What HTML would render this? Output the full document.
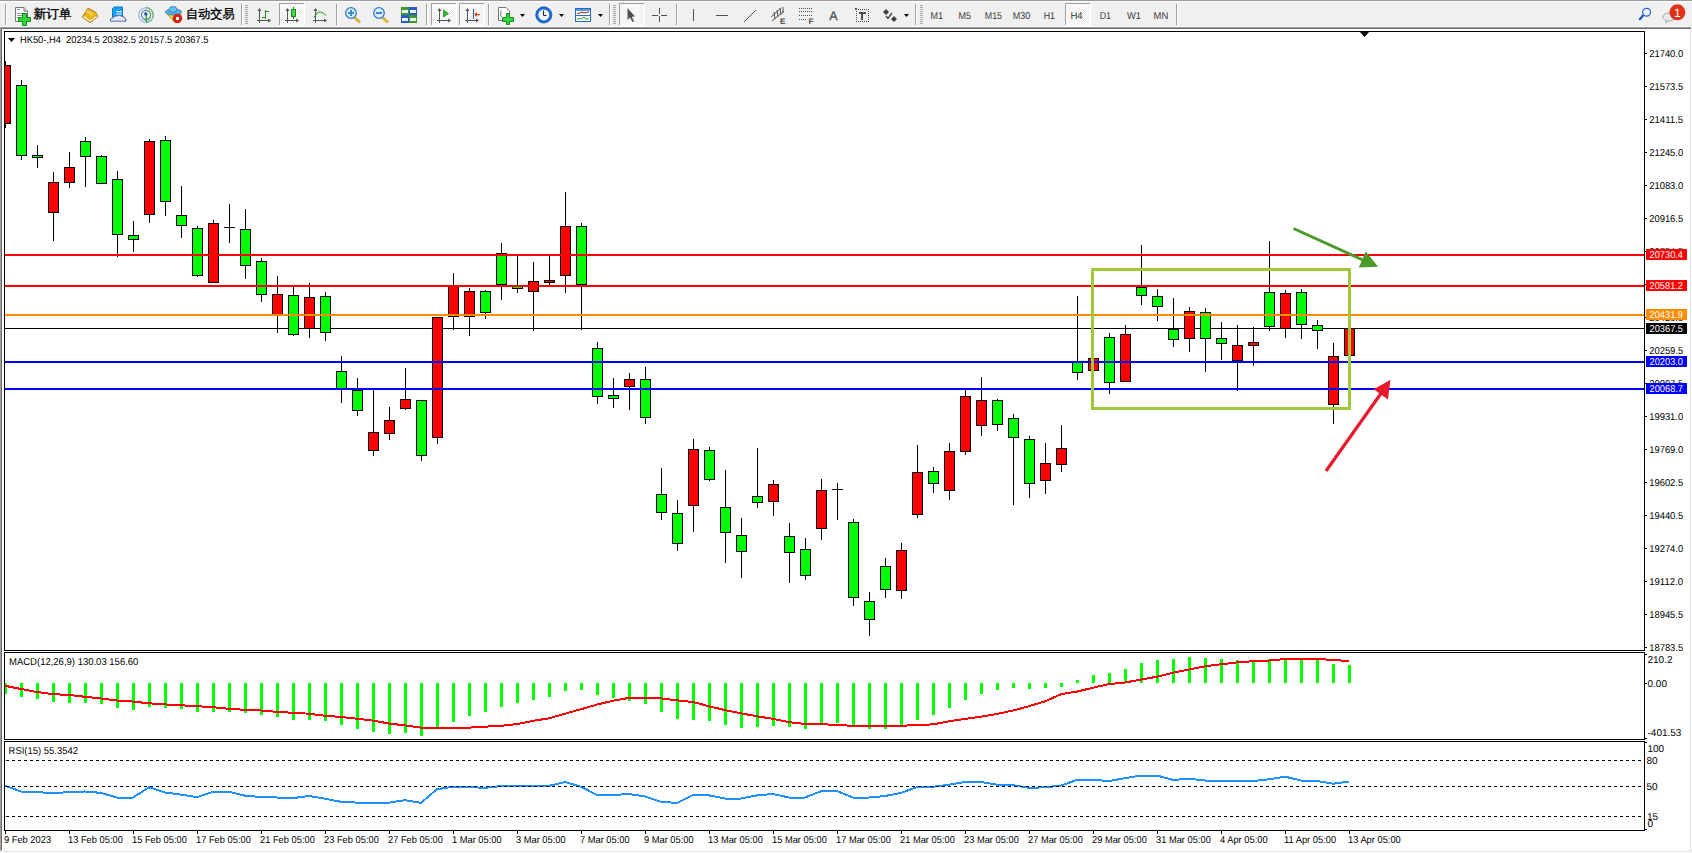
<!DOCTYPE html><html><head><meta charset="utf-8"><style>
html,body{margin:0;padding:0;width:1692px;height:853px;overflow:hidden;background:#f0f0f0;}
svg{position:absolute;left:0;top:0;display:block;}
text{font-family:"Liberation Sans",sans-serif;text-rendering:geometricPrecision;}
</style></head><body>
<svg width="1692" height="853" viewBox="0 0 1692 853">
<defs><clipPath id="cm"><rect x="5" y="32" width="1639" height="618"/></clipPath><clipPath id="cd"><rect x="5" y="653" width="1639" height="86"/></clipPath><clipPath id="cr"><rect x="5" y="742" width="1639" height="88"/></clipPath><pattern id="chk" width="2" height="2" patternUnits="userSpaceOnUse"><rect width="2" height="2" fill="#ededed"/><rect width="1" height="1" fill="#ffffff"/><rect x="1" y="1" width="1" height="1" fill="#ffffff"/></pattern></defs>
<g shape-rendering="crispEdges">
<rect x="0" y="0" width="1692" height="1" fill="#999"/>
<rect x="0" y="1" width="1692" height="1" fill="#fff"/>
<rect x="0" y="26" width="1692" height="1" fill="#f8f8f8"/>
<rect x="0" y="27" width="1692" height="1" fill="#a0a0a0"/>
<rect x="0" y="27" width="1" height="824" fill="#a0a0a0"/>
<rect x="1" y="28" width="1690" height="1" fill="#696969"/>
<rect x="1" y="28" width="1" height="822" fill="#696969"/>
<rect x="2" y="29" width="1688" height="822" fill="#fff"/>
<rect x="1690" y="29" width="1" height="823" fill="#e3e3e3"/>
<rect x="1691" y="27" width="1" height="826" fill="#fff"/>
<rect x="2" y="851" width="1689" height="1" fill="#e3e3e3"/>
<rect x="0" y="852" width="1692" height="1" fill="#fff"/>
</g>
<g shape-rendering="crispEdges">
<rect x="5" y="4" width="1" height="21" fill="#a0a0a0"/><rect x="6" y="4" width="1" height="21" fill="#ffffff"/>
</g>
<g>
<path d="M15.5,7.5 H24 L27.5,11 V21.5 H15.5 Z" fill="#fff" stroke="#777" stroke-width="1"/>
<path d="M24,7.5 V11 H27.5" fill="#e8e8e8" stroke="#777" stroke-width="1"/>
<g fill="#999" shape-rendering="crispEdges"><rect x="17" y="9" width="3" height="1"/><rect x="17" y="13" width="6" height="1"/><rect x="17" y="15" width="5" height="1"/><rect x="17" y="17" width="3" height="1"/></g>
<path d="M22.5,13.5 h4 v4 h4 v4 h-4 v4 h-4 v-4 h-4 v-4 h4 z" fill="#2fd83a" stroke="#1a8a22" stroke-width="1"/>
</g>
<text x="33.5" y="18.3" font-size="12.4" fill="#000" stroke="#000" stroke-width="0.35" textLength="38" lengthAdjust="spacingAndGlyphs">新订单</text>
<g>
<path d="M88,8.2 L95.5,12 L98,16.6 L90,22.6 L82.2,17 Z" fill="#e8b41c" stroke="#a8701a" stroke-width="0.9" stroke-linejoin="round"/>
<path d="M83.5,16.6 L90.2,21 L96.8,16.2" fill="none" stroke="#f8eec0" stroke-width="1.3"/>
<path d="M86.5,11 L93,14.5" stroke="#f6d456" stroke-width="2"/>
</g>
<g>
<path d="M112.5,8.5 L114.5,7 H122.5 V17 H112.5 Z" fill="#1aa0f0" stroke="#0a78c8" stroke-width="1"/>
<rect x="116.5" y="11" width="5" height="1.3" fill="#fff"/>
<rect x="116.5" y="13.5" width="5" height="1.3" fill="#d8f0ff"/>
<path d="M111,21.5 Q109.5,18 113,17.8 Q114,15 117,16 Q119,13.8 121.5,16.2 Q124,15.5 124.5,18 Q127,18.5 125.5,21.5 Z" fill="#e4e8f4" stroke="#3a5a9a" stroke-width="1"/>
<rect x="111.5" y="20" width="13.5" height="1.6" fill="#b8c4dc"/>
</g>
<g fill="none">
<circle cx="146" cy="15" r="7.3" stroke="#8ab8e0" stroke-width="1.1"/>
<path d="M146,7.7 A7.3,7.3 0 0 1 146,22.3" stroke="#6ab86a" stroke-width="1.2"/>
<circle cx="146" cy="15" r="4.6" stroke="#4a7ad0" stroke-width="1.1"/>
<path d="M146,10.4 A4.6,4.6 0 0 1 146,19.6" stroke="#5aa85a" stroke-width="1.1"/>
<circle cx="145.8" cy="14" r="1.7" fill="#2050c0"/>
<rect x="145.8" y="14.5" width="1.2" height="8" fill="#20a020"/>
</g>
<g>
<path d="M167,14 L175,22.5 L180,20 L181,14 Z" fill="#f0d040" stroke="#c8a020" stroke-width="1"/>
<ellipse cx="173.5" cy="12" rx="8" ry="3" fill="#5ab0e0" stroke="#3a88c0" stroke-width="1"/>
<ellipse cx="173" cy="9.5" rx="4" ry="3" fill="#6ac0f0" stroke="#3a88c0" stroke-width="1"/>
<circle cx="177.5" cy="18.5" r="4.3" fill="#e02010" stroke="#b01808" stroke-width="0.8"/>
<rect x="176" y="17" width="3" height="3" fill="#fff"/>
</g>
<text x="186" y="18.3" font-size="12.4" fill="#000" stroke="#000" stroke-width="0.35" textLength="48.5" lengthAdjust="spacingAndGlyphs">自动交易</text>
<g shape-rendering="crispEdges">
<rect x="241" y="4" width="1" height="21" fill="#a0a0a0"/><rect x="242" y="4" width="1" height="21" fill="#ffffff"/>
<rect x="245" y="5" width="3" height="1" fill="#a8a8a8"/>
<rect x="245" y="7" width="3" height="1" fill="#a8a8a8"/>
<rect x="245" y="9" width="3" height="1" fill="#a8a8a8"/>
<rect x="245" y="11" width="3" height="1" fill="#a8a8a8"/>
<rect x="245" y="13" width="3" height="1" fill="#a8a8a8"/>
<rect x="245" y="15" width="3" height="1" fill="#a8a8a8"/>
<rect x="245" y="17" width="3" height="1" fill="#a8a8a8"/>
<rect x="245" y="19" width="3" height="1" fill="#a8a8a8"/>
<rect x="245" y="21" width="3" height="1" fill="#a8a8a8"/>
<rect x="245" y="23" width="3" height="1" fill="#a8a8a8"/>
</g>
<g fill="#555" shape-rendering="crispEdges"><rect x="259" y="9" width="1" height="14"/><rect x="257" y="20" width="13" height="1"/></g><polygon points="259.5,8 257.5,11 261.5,11" fill="#555"/><polygon points="271,20.5 268,18.5 268,22.5" fill="#555"/>
<g fill="#189018" shape-rendering="crispEdges"><rect x="265" y="10" width="1" height="9"/><rect x="266" y="11" width="3" height="1"/><rect x="262" y="17" width="3" height="1"/></g>
<g shape-rendering="crispEdges">
<rect x="279" y="3" width="25" height="22" fill="url(#chk)"/>
<rect x="279" y="3" width="25" height="1" fill="#a0a0a0"/>
<rect x="279" y="3" width="1" height="22" fill="#a0a0a0"/>
<rect x="279" y="25" width="26" height="1" fill="#ffffff"/>
<rect x="304" y="3" width="1" height="23" fill="#ffffff"/>
</g>
<g fill="#555" shape-rendering="crispEdges"><rect x="287" y="9" width="1" height="14"/><rect x="285" y="20" width="13" height="1"/></g><polygon points="287.5,8 285.5,11 289.5,11" fill="#555"/><polygon points="299,20.5 296,18.5 296,22.5" fill="#555"/>
<rect x="293" y="7" width="1" height="12" fill="#1a8a1a" shape-rendering="crispEdges"/>
<rect x="291.5" y="9.5" width="4" height="7" fill="#3ee03e" stroke="#1a8a1a" stroke-width="1" shape-rendering="crispEdges"/>
<g fill="#555" shape-rendering="crispEdges"><rect x="315" y="9" width="1" height="14"/><rect x="313" y="20" width="13" height="1"/></g><polygon points="315.5,8 313.5,11 317.5,11" fill="#555"/><polygon points="327,20.5 324,18.5 324,22.5" fill="#555"/>
<path d="M314,17.5 Q317,12 320,12 Q323,12 326,15.5" fill="none" stroke="#2a9a2a" stroke-width="1.1"/>
<g shape-rendering="crispEdges">
<rect x="336" y="4" width="1" height="21" fill="#a0a0a0"/><rect x="337" y="4" width="1" height="21" fill="#ffffff"/>
</g>
<line x1="354" y1="17" x2="360" y2="22.5" stroke="#c8a020" stroke-width="2.6"/>
<line x1="354" y1="17" x2="360" y2="22.5" stroke="#f0d860" stroke-width="1"/>
<circle cx="351" cy="13" r="5.3" fill="#d8f0ff" stroke="#3a7ad0" stroke-width="1.3"/>
<rect x="348" y="12" width="6" height="2" fill="#3a8ac8"/>
<rect x="350" y="10" width="2" height="6" fill="#3a8ac8"/>
<line x1="382" y1="17" x2="388" y2="22.5" stroke="#c8a020" stroke-width="2.6"/>
<line x1="382" y1="17" x2="388" y2="22.5" stroke="#f0d860" stroke-width="1"/>
<circle cx="379" cy="13" r="5.3" fill="#d8f0ff" stroke="#3a7ad0" stroke-width="1.3"/>
<rect x="376" y="12" width="6" height="2" fill="#3a8ac8"/>
<g shape-rendering="crispEdges">
<rect x="401" y="7" width="8" height="8" fill="#3a9a2a"/>
<rect x="402" y="10" width="6" height="3" fill="#f0f8f0"/>
<rect x="409" y="7" width="8" height="8" fill="#2a5ad0"/>
<rect x="410" y="10" width="6" height="3" fill="#f0f8f0"/>
<rect x="401" y="15" width="8" height="8" fill="#2a5ad0"/>
<rect x="402" y="18" width="6" height="3" fill="#f0f8f0"/>
<rect x="409" y="15" width="8" height="8" fill="#3a9a2a"/>
<rect x="410" y="18" width="6" height="3" fill="#f0f8f0"/>
</g>
<g shape-rendering="crispEdges">
<rect x="426" y="4" width="1" height="21" fill="#a0a0a0"/><rect x="427" y="4" width="1" height="21" fill="#ffffff"/>
<rect x="431" y="3" width="25" height="22" fill="url(#chk)"/>
<rect x="431" y="3" width="25" height="1" fill="#a0a0a0"/>
<rect x="431" y="3" width="1" height="22" fill="#a0a0a0"/>
<rect x="431" y="25" width="26" height="1" fill="#ffffff"/>
<rect x="456" y="3" width="1" height="23" fill="#ffffff"/>
<rect x="459" y="3" width="25" height="22" fill="url(#chk)"/>
<rect x="459" y="3" width="25" height="1" fill="#a0a0a0"/>
<rect x="459" y="3" width="1" height="22" fill="#a0a0a0"/>
<rect x="459" y="25" width="26" height="1" fill="#ffffff"/>
<rect x="484" y="3" width="1" height="23" fill="#ffffff"/>
</g>
<g fill="#555" shape-rendering="crispEdges"><rect x="439" y="9" width="1" height="14"/><rect x="437" y="20" width="13" height="1"/></g><polygon points="439.5,8 437.5,11 441.5,11" fill="#555"/><polygon points="451,20.5 448,18.5 448,22.5" fill="#555"/>
<polygon points="443.5,10 448.5,13.5 443.5,17" fill="#30c030" stroke="#208a20" stroke-width="0.8"/>
<g fill="#555" shape-rendering="crispEdges"><rect x="467" y="9" width="1" height="14"/><rect x="465" y="20" width="13" height="1"/></g><polygon points="467.5,8 465.5,11 469.5,11" fill="#555"/><polygon points="479,20.5 476,18.5 476,22.5" fill="#555"/>
<rect x="473" y="9" width="1" height="10" fill="#2060b0" shape-rendering="crispEdges"/>
<polygon points="474,14.5 477,12 477,17" fill="#e04010"/><rect x="476" y="14" width="4" height="1.2" fill="#e04010"/>
<g shape-rendering="crispEdges">
<rect x="488" y="4" width="1" height="21" fill="#a0a0a0"/><rect x="489" y="4" width="1" height="21" fill="#ffffff"/>
</g>
<path d="M498.5,7.5 H506 L509.5,11 V20.5 H498.5 Z" fill="#fff" stroke="#777" stroke-width="1"/>
<path d="M501.5,10 Q500,11 501,13 Q500,15 501.5,17" fill="none" stroke="#555" stroke-width="0.8"/>
<path d="M506.5,13.5 h3 v4 h4 v4 h-4 v3 h-3 v-3 h-4 v-4 h4 z" fill="#2fd83a" stroke="#1a8a22" stroke-width="1"/>
<polygon points="520.0,14 525.0,14 522.5,17" fill="#000"/>
<circle cx="543.8" cy="14.9" r="6.8" fill="#f2f6fa" stroke="#1a70d8" stroke-width="2.6"/>
<circle cx="543.8" cy="14.9" r="8.1" fill="none" stroke="#0a4a9a" stroke-width="0.7"/>
<path d="M543.5,10.5 V15.5 H546.5" fill="none" stroke="#222" stroke-width="1"/>
<polygon points="559.0,14 564.0,14 561.5,17" fill="#000"/>
<rect x="575.5" y="8.5" width="15" height="13" fill="#fff" stroke="#2a6ac0" stroke-width="1"/>
<rect x="576" y="9" width="14" height="2" fill="#5a9ae0"/>
<rect x="576" y="15" width="14" height="1" fill="#2a6ac0"/>
<path d="M577,13.5 L580,13 L582,12 L584,13 L586,12.5 L589,12" fill="none" stroke="#a02010" stroke-width="1"/>
<path d="M577,19.5 L579,18.5 L581,19 L584,17 L586,19 L589,19" fill="none" stroke="#20a020" stroke-width="1"/>
<polygon points="598.0,14 603.0,14 600.5,17" fill="#000"/>
<g shape-rendering="crispEdges">
<rect x="609" y="4" width="1" height="21" fill="#a0a0a0"/><rect x="610" y="4" width="1" height="21" fill="#ffffff"/>
<rect x="613" y="5" width="3" height="1" fill="#a8a8a8"/>
<rect x="613" y="7" width="3" height="1" fill="#a8a8a8"/>
<rect x="613" y="9" width="3" height="1" fill="#a8a8a8"/>
<rect x="613" y="11" width="3" height="1" fill="#a8a8a8"/>
<rect x="613" y="13" width="3" height="1" fill="#a8a8a8"/>
<rect x="613" y="15" width="3" height="1" fill="#a8a8a8"/>
<rect x="613" y="17" width="3" height="1" fill="#a8a8a8"/>
<rect x="613" y="19" width="3" height="1" fill="#a8a8a8"/>
<rect x="613" y="21" width="3" height="1" fill="#a8a8a8"/>
<rect x="613" y="23" width="3" height="1" fill="#a8a8a8"/>
<rect x="619" y="3" width="25" height="22" fill="url(#chk)"/>
<rect x="619" y="3" width="25" height="1" fill="#a0a0a0"/>
<rect x="619" y="3" width="1" height="22" fill="#a0a0a0"/>
<rect x="619" y="25" width="26" height="1" fill="#ffffff"/>
<rect x="644" y="3" width="1" height="23" fill="#ffffff"/>
</g>
<path d="M627.5,8 V20 L630,17.5 L632.5,22 L634,21.2 L631.8,16.8 L635,16.5 Z" fill="#505050"/>
<g fill="#505050" shape-rendering="crispEdges"><rect x="659" y="8" width="1" height="6"/><rect x="659" y="16" width="1" height="6"/><rect x="652" y="15" width="6" height="1"/><rect x="661" y="15" width="6" height="1"/></g>
<g shape-rendering="crispEdges">
<rect x="676" y="4" width="1" height="21" fill="#a0a0a0"/><rect x="677" y="4" width="1" height="21" fill="#ffffff"/>
</g>
<rect x="693" y="9" width="1" height="12" fill="#505050" shape-rendering="crispEdges"/>
<rect x="716" y="15" width="12" height="1" fill="#505050" shape-rendering="crispEdges"/>
<line x1="744" y1="22" x2="756" y2="10" stroke="#505050" stroke-width="1"/>
<g stroke="#505050" stroke-width="1" fill="none"><line x1="771" y1="17" x2="781" y2="8"/><line x1="772" y1="21" x2="784" y2="11"/><line x1="774" y1="12" x2="775" y2="19"/><line x1="777" y1="10" x2="778" y2="17"/><line x1="780" y1="8" x2="781" y2="15"/><line x1="783" y1="7" x2="783" y2="13"/></g>
<text x="780" y="23.5" font-size="8" font-weight="bold" fill="#505050">E</text>
<g fill="#505050" shape-rendering="crispEdges">
<rect x="799" y="8" width="1" height="1"/>
<rect x="801" y="8" width="1" height="1"/>
<rect x="803" y="8" width="1" height="1"/>
<rect x="805" y="8" width="1" height="1"/>
<rect x="807" y="8" width="1" height="1"/>
<rect x="809" y="8" width="1" height="1"/>
<rect x="811" y="8" width="1" height="1"/>
<rect x="799" y="11" width="1" height="1"/>
<rect x="801" y="11" width="1" height="1"/>
<rect x="803" y="11" width="1" height="1"/>
<rect x="805" y="11" width="1" height="1"/>
<rect x="807" y="11" width="1" height="1"/>
<rect x="809" y="11" width="1" height="1"/>
<rect x="811" y="11" width="1" height="1"/>
<rect x="799" y="15" width="1" height="1"/>
<rect x="801" y="15" width="1" height="1"/>
<rect x="803" y="15" width="1" height="1"/>
<rect x="805" y="15" width="1" height="1"/>
<rect x="807" y="15" width="1" height="1"/>
<rect x="809" y="15" width="1" height="1"/>
<rect x="811" y="15" width="1" height="1"/>
<rect x="799" y="19" width="1" height="1"/>
<rect x="801" y="19" width="1" height="1"/>
<rect x="803" y="19" width="1" height="1"/>
<rect x="805" y="19" width="1" height="1"/>
</g>
<text x="808.5" y="24" font-size="8" font-weight="bold" fill="#505050">F</text>
<text x="829.3" y="20" font-size="12.5" fill="#505050" stroke="#505050" stroke-width="0.3">A</text>
<g fill="#505050" shape-rendering="crispEdges">
<rect x="856" y="9" width="1" height="1"/><rect x="856" y="21" width="1" height="1"/>
<rect x="858" y="9" width="1" height="1"/><rect x="858" y="21" width="1" height="1"/>
<rect x="860" y="9" width="1" height="1"/><rect x="860" y="21" width="1" height="1"/>
<rect x="862" y="9" width="1" height="1"/><rect x="862" y="21" width="1" height="1"/>
<rect x="864" y="9" width="1" height="1"/><rect x="864" y="21" width="1" height="1"/>
<rect x="866" y="9" width="1" height="1"/><rect x="866" y="21" width="1" height="1"/>
<rect x="868" y="9" width="1" height="1"/><rect x="868" y="21" width="1" height="1"/>
<rect x="856" y="9" width="1" height="1"/><rect x="868" y="9" width="1" height="1"/>
<rect x="856" y="11" width="1" height="1"/><rect x="868" y="11" width="1" height="1"/>
<rect x="856" y="13" width="1" height="1"/><rect x="868" y="13" width="1" height="1"/>
<rect x="856" y="15" width="1" height="1"/><rect x="868" y="15" width="1" height="1"/>
<rect x="856" y="17" width="1" height="1"/><rect x="868" y="17" width="1" height="1"/>
<rect x="856" y="19" width="1" height="1"/><rect x="868" y="19" width="1" height="1"/>
<rect x="856" y="21" width="1" height="1"/><rect x="868" y="21" width="1" height="1"/>
<rect x="855" y="8" width="2" height="2"/>
<rect x="859" y="12" width="7" height="2"/><rect x="861" y="12" width="2" height="8"/>
</g>
<polygon points="886,9 889,12 886,15 883,12" fill="#404040"/>
<polygon points="894,16 897,19 894,22 891,19" fill="#404040"/>
<path d="M886,16 L888,18.5 L892,13" fill="none" stroke="#404040" stroke-width="1.3"/>
<polygon points="904.0,14 909.0,14 906.5,17" fill="#000"/>
<g shape-rendering="crispEdges">
<rect x="915" y="4" width="1" height="21" fill="#a0a0a0"/><rect x="916" y="4" width="1" height="21" fill="#ffffff"/>
<rect x="920" y="5" width="3" height="1" fill="#a8a8a8"/>
<rect x="920" y="7" width="3" height="1" fill="#a8a8a8"/>
<rect x="920" y="9" width="3" height="1" fill="#a8a8a8"/>
<rect x="920" y="11" width="3" height="1" fill="#a8a8a8"/>
<rect x="920" y="13" width="3" height="1" fill="#a8a8a8"/>
<rect x="920" y="15" width="3" height="1" fill="#a8a8a8"/>
<rect x="920" y="17" width="3" height="1" fill="#a8a8a8"/>
<rect x="920" y="19" width="3" height="1" fill="#a8a8a8"/>
<rect x="920" y="21" width="3" height="1" fill="#a8a8a8"/>
<rect x="920" y="23" width="3" height="1" fill="#a8a8a8"/>
<rect x="1065" y="3" width="25" height="22" fill="url(#chk)"/>
<rect x="1065" y="3" width="25" height="1" fill="#a0a0a0"/>
<rect x="1065" y="3" width="1" height="22" fill="#a0a0a0"/>
<rect x="1065" y="25" width="26" height="1" fill="#ffffff"/>
<rect x="1090" y="3" width="1" height="23" fill="#ffffff"/>
<rect x="1176" y="4" width="1" height="21" fill="#a0a0a0"/><rect x="1177" y="4" width="1" height="21" fill="#ffffff"/>
</g>
<text x="930.5" y="19" font-size="10" fill="#383838" textLength="12.5" lengthAdjust="spacingAndGlyphs">M1</text>
<text x="958.5" y="19" font-size="10" fill="#383838" textLength="12.5" lengthAdjust="spacingAndGlyphs">M5</text>
<text x="984.8" y="19" font-size="10" fill="#383838" textLength="17.2" lengthAdjust="spacingAndGlyphs">M15</text>
<text x="1012.7" y="19" font-size="10" fill="#383838" textLength="17.5" lengthAdjust="spacingAndGlyphs">M30</text>
<text x="1043.7" y="19" font-size="10" fill="#383838" textLength="11.3" lengthAdjust="spacingAndGlyphs">H1</text>
<text x="1070.4" y="19" font-size="10" fill="#383838" textLength="12.3" lengthAdjust="spacingAndGlyphs">H4</text>
<text x="1099.7" y="19" font-size="10" fill="#383838" textLength="11.3" lengthAdjust="spacingAndGlyphs">D1</text>
<text x="1127" y="19" font-size="10" fill="#383838" textLength="13.9" lengthAdjust="spacingAndGlyphs">W1</text>
<text x="1153.6" y="19" font-size="10" fill="#383838" textLength="14.7" lengthAdjust="spacingAndGlyphs">MN</text>
<line x1="1643.3" y1="15.3" x2="1639.8" y2="19.2" stroke="#1a50c8" stroke-width="2.2" stroke-linecap="round"/>
<circle cx="1646.6" cy="12.3" r="3.9" fill="#f4f8ff" stroke="#2060d8" stroke-width="1.2"/>
<ellipse cx="1669" cy="17" rx="6" ry="4" fill="#e8eaf0" stroke="#a0a0a0" stroke-width="0.9"/>
<path d="M1666,20 L1666,23 L1669,20.8" fill="#e8eaf0" stroke="#a0a0a0" stroke-width="0.9"/>
<circle cx="1677.4" cy="12.3" r="8" fill="#e03018"/>
<text x="1677.4" y="16.8" font-size="12" fill="#fff" text-anchor="middle" font-family="'Liberation Serif',serif">1</text>
<g shape-rendering="crispEdges">
<rect x="4.5" y="31.5" width="1640" height="619" fill="none" stroke="#000" stroke-width="1"/>
<rect x="4.5" y="652.5" width="1640" height="87" fill="none" stroke="#000" stroke-width="1"/>
<rect x="4.5" y="741.5" width="1640" height="89" fill="none" stroke="#000" stroke-width="1"/>
</g>
<rect x="5" y="328" width="1639" height="1" fill="#000" shape-rendering="crispEdges"/>
<g clip-path="url(#cm)" shape-rendering="crispEdges">
<rect x="5" y="61" width="1" height="67" fill="#000"/>
<rect x="0" y="65" width="11" height="59" fill="#000"/>
<rect x="1" y="66" width="9" height="57" fill="#ff0000"/>
<rect x="21" y="80" width="1" height="80" fill="#000"/>
<rect x="16" y="85" width="11" height="71" fill="#000"/>
<rect x="17" y="86" width="9" height="69" fill="#00ff00"/>
<rect x="37" y="145" width="1" height="23" fill="#000"/>
<rect x="32" y="155" width="11" height="3" fill="#000"/>
<rect x="33" y="156" width="9" height="1" fill="#00ff00"/>
<rect x="53" y="172" width="1" height="69" fill="#000"/>
<rect x="48" y="182" width="11" height="31" fill="#000"/>
<rect x="49" y="183" width="9" height="29" fill="#ff0000"/>
<rect x="69" y="152" width="1" height="36" fill="#000"/>
<rect x="64" y="167" width="11" height="16" fill="#000"/>
<rect x="65" y="168" width="9" height="14" fill="#ff0000"/>
<rect x="85" y="137" width="1" height="50" fill="#000"/>
<rect x="80" y="141" width="11" height="16" fill="#000"/>
<rect x="81" y="142" width="9" height="14" fill="#00ff00"/>
<rect x="101" y="155" width="1" height="29" fill="#000"/>
<rect x="96" y="156" width="11" height="28" fill="#000"/>
<rect x="97" y="157" width="9" height="26" fill="#00ff00"/>
<rect x="117" y="171" width="1" height="86" fill="#000"/>
<rect x="112" y="179" width="11" height="56" fill="#000"/>
<rect x="113" y="180" width="9" height="54" fill="#00ff00"/>
<rect x="133" y="221" width="1" height="31" fill="#000"/>
<rect x="128" y="235" width="11" height="5" fill="#000"/>
<rect x="129" y="236" width="9" height="3" fill="#00ff00"/>
<rect x="149" y="139" width="1" height="84" fill="#000"/>
<rect x="144" y="141" width="11" height="74" fill="#000"/>
<rect x="145" y="142" width="9" height="72" fill="#ff0000"/>
<rect x="165" y="136" width="1" height="80" fill="#000"/>
<rect x="160" y="140" width="11" height="62" fill="#000"/>
<rect x="161" y="141" width="9" height="60" fill="#00ff00"/>
<rect x="181" y="186" width="1" height="52" fill="#000"/>
<rect x="176" y="215" width="11" height="11" fill="#000"/>
<rect x="177" y="216" width="9" height="9" fill="#00ff00"/>
<rect x="197" y="226" width="1" height="51" fill="#000"/>
<rect x="192" y="228" width="11" height="48" fill="#000"/>
<rect x="193" y="229" width="9" height="46" fill="#00ff00"/>
<rect x="213" y="220" width="1" height="62" fill="#000"/>
<rect x="208" y="223" width="11" height="60" fill="#000"/>
<rect x="209" y="224" width="9" height="58" fill="#ff0000"/>
<rect x="229" y="204" width="1" height="39" fill="#000"/>
<rect x="224" y="227" width="11" height="1" fill="#000"/>
<rect x="245" y="209" width="1" height="70" fill="#000"/>
<rect x="240" y="229" width="11" height="37" fill="#000"/>
<rect x="241" y="230" width="9" height="35" fill="#00ff00"/>
<rect x="261" y="258" width="1" height="44" fill="#000"/>
<rect x="256" y="261" width="11" height="34" fill="#000"/>
<rect x="257" y="262" width="9" height="32" fill="#00ff00"/>
<rect x="277" y="276" width="1" height="57" fill="#000"/>
<rect x="272" y="294" width="11" height="21" fill="#000"/>
<rect x="273" y="295" width="9" height="19" fill="#ff0000"/>
<rect x="293" y="287" width="1" height="49" fill="#000"/>
<rect x="288" y="295" width="11" height="40" fill="#000"/>
<rect x="289" y="296" width="9" height="38" fill="#00ff00"/>
<rect x="309" y="283" width="1" height="55" fill="#000"/>
<rect x="304" y="297" width="11" height="32" fill="#000"/>
<rect x="305" y="298" width="9" height="30" fill="#ff0000"/>
<rect x="325" y="292" width="1" height="49" fill="#000"/>
<rect x="320" y="296" width="11" height="37" fill="#000"/>
<rect x="321" y="297" width="9" height="35" fill="#00ff00"/>
<rect x="341" y="356" width="1" height="47" fill="#000"/>
<rect x="336" y="371" width="11" height="18" fill="#000"/>
<rect x="337" y="372" width="9" height="16" fill="#00ff00"/>
<rect x="357" y="378" width="1" height="38" fill="#000"/>
<rect x="352" y="390" width="11" height="21" fill="#000"/>
<rect x="353" y="391" width="9" height="19" fill="#00ff00"/>
<rect x="373" y="390" width="1" height="66" fill="#000"/>
<rect x="368" y="432" width="11" height="19" fill="#000"/>
<rect x="369" y="433" width="9" height="17" fill="#ff0000"/>
<rect x="389" y="407" width="1" height="33" fill="#000"/>
<rect x="384" y="420" width="11" height="14" fill="#000"/>
<rect x="385" y="421" width="9" height="12" fill="#ff0000"/>
<rect x="405" y="368" width="1" height="42" fill="#000"/>
<rect x="400" y="399" width="11" height="10" fill="#000"/>
<rect x="401" y="400" width="9" height="8" fill="#ff0000"/>
<rect x="421" y="400" width="1" height="61" fill="#000"/>
<rect x="416" y="400" width="11" height="56" fill="#000"/>
<rect x="417" y="401" width="9" height="54" fill="#00ff00"/>
<rect x="437" y="317" width="1" height="127" fill="#000"/>
<rect x="432" y="317" width="11" height="121" fill="#000"/>
<rect x="433" y="318" width="9" height="119" fill="#ff0000"/>
<rect x="453" y="273" width="1" height="57" fill="#000"/>
<rect x="448" y="285" width="11" height="32" fill="#000"/>
<rect x="449" y="286" width="9" height="30" fill="#ff0000"/>
<rect x="469" y="288" width="1" height="48" fill="#000"/>
<rect x="464" y="291" width="11" height="26" fill="#000"/>
<rect x="465" y="292" width="9" height="24" fill="#ff0000"/>
<rect x="485" y="290" width="1" height="29" fill="#000"/>
<rect x="480" y="291" width="11" height="22" fill="#000"/>
<rect x="481" y="292" width="9" height="20" fill="#00ff00"/>
<rect x="501" y="243" width="1" height="57" fill="#000"/>
<rect x="496" y="253" width="11" height="32" fill="#000"/>
<rect x="497" y="254" width="9" height="30" fill="#00ff00"/>
<rect x="517" y="255" width="1" height="38" fill="#000"/>
<rect x="512" y="286" width="11" height="3" fill="#000"/>
<rect x="513" y="287" width="9" height="1" fill="#00ff00"/>
<rect x="533" y="262" width="1" height="69" fill="#000"/>
<rect x="528" y="281" width="11" height="11" fill="#000"/>
<rect x="529" y="282" width="9" height="9" fill="#ff0000"/>
<rect x="549" y="256" width="1" height="29" fill="#000"/>
<rect x="544" y="280" width="11" height="3" fill="#000"/>
<rect x="545" y="281" width="9" height="1" fill="#ff0000"/>
<rect x="565" y="192" width="1" height="101" fill="#000"/>
<rect x="560" y="226" width="11" height="50" fill="#000"/>
<rect x="561" y="227" width="9" height="48" fill="#ff0000"/>
<rect x="581" y="223" width="1" height="107" fill="#000"/>
<rect x="576" y="226" width="11" height="59" fill="#000"/>
<rect x="577" y="227" width="9" height="57" fill="#00ff00"/>
<rect x="597" y="342" width="1" height="62" fill="#000"/>
<rect x="592" y="348" width="11" height="49" fill="#000"/>
<rect x="593" y="349" width="9" height="47" fill="#00ff00"/>
<rect x="613" y="378" width="1" height="30" fill="#000"/>
<rect x="608" y="395" width="11" height="4" fill="#000"/>
<rect x="609" y="396" width="9" height="2" fill="#00ff00"/>
<rect x="629" y="373" width="1" height="37" fill="#000"/>
<rect x="624" y="379" width="11" height="8" fill="#000"/>
<rect x="625" y="380" width="9" height="6" fill="#ff0000"/>
<rect x="645" y="367" width="1" height="57" fill="#000"/>
<rect x="640" y="379" width="11" height="39" fill="#000"/>
<rect x="641" y="380" width="9" height="37" fill="#00ff00"/>
<rect x="661" y="468" width="1" height="52" fill="#000"/>
<rect x="656" y="494" width="11" height="19" fill="#000"/>
<rect x="657" y="495" width="9" height="17" fill="#00ff00"/>
<rect x="677" y="500" width="1" height="51" fill="#000"/>
<rect x="672" y="513" width="11" height="31" fill="#000"/>
<rect x="673" y="514" width="9" height="29" fill="#00ff00"/>
<rect x="693" y="439" width="1" height="93" fill="#000"/>
<rect x="688" y="449" width="11" height="57" fill="#000"/>
<rect x="689" y="450" width="9" height="55" fill="#ff0000"/>
<rect x="709" y="447" width="1" height="34" fill="#000"/>
<rect x="704" y="450" width="11" height="30" fill="#000"/>
<rect x="705" y="451" width="9" height="28" fill="#00ff00"/>
<rect x="725" y="470" width="1" height="93" fill="#000"/>
<rect x="720" y="507" width="11" height="26" fill="#000"/>
<rect x="721" y="508" width="9" height="24" fill="#00ff00"/>
<rect x="741" y="518" width="1" height="60" fill="#000"/>
<rect x="736" y="535" width="11" height="17" fill="#000"/>
<rect x="737" y="536" width="9" height="15" fill="#00ff00"/>
<rect x="757" y="448" width="1" height="60" fill="#000"/>
<rect x="752" y="496" width="11" height="7" fill="#000"/>
<rect x="753" y="497" width="9" height="5" fill="#00ff00"/>
<rect x="773" y="480" width="1" height="36" fill="#000"/>
<rect x="768" y="484" width="11" height="18" fill="#000"/>
<rect x="769" y="485" width="9" height="16" fill="#ff0000"/>
<rect x="789" y="523" width="1" height="60" fill="#000"/>
<rect x="784" y="536" width="11" height="17" fill="#000"/>
<rect x="785" y="537" width="9" height="15" fill="#00ff00"/>
<rect x="805" y="538" width="1" height="42" fill="#000"/>
<rect x="800" y="549" width="11" height="27" fill="#000"/>
<rect x="801" y="550" width="9" height="25" fill="#00ff00"/>
<rect x="821" y="479" width="1" height="61" fill="#000"/>
<rect x="816" y="490" width="11" height="39" fill="#000"/>
<rect x="817" y="491" width="9" height="37" fill="#ff0000"/>
<rect x="837" y="483" width="1" height="37" fill="#000"/>
<rect x="832" y="489" width="11" height="1" fill="#000"/>
<rect x="853" y="519" width="1" height="87" fill="#000"/>
<rect x="848" y="522" width="11" height="76" fill="#000"/>
<rect x="849" y="523" width="9" height="74" fill="#00ff00"/>
<rect x="869" y="592" width="1" height="44" fill="#000"/>
<rect x="864" y="601" width="11" height="19" fill="#000"/>
<rect x="865" y="602" width="9" height="17" fill="#00ff00"/>
<rect x="885" y="558" width="1" height="40" fill="#000"/>
<rect x="880" y="566" width="11" height="24" fill="#000"/>
<rect x="881" y="567" width="9" height="22" fill="#00ff00"/>
<rect x="901" y="543" width="1" height="56" fill="#000"/>
<rect x="896" y="550" width="11" height="41" fill="#000"/>
<rect x="897" y="551" width="9" height="39" fill="#ff0000"/>
<rect x="917" y="445" width="1" height="73" fill="#000"/>
<rect x="912" y="472" width="11" height="43" fill="#000"/>
<rect x="913" y="473" width="9" height="41" fill="#ff0000"/>
<rect x="933" y="467" width="1" height="26" fill="#000"/>
<rect x="928" y="471" width="11" height="13" fill="#000"/>
<rect x="929" y="472" width="9" height="11" fill="#00ff00"/>
<rect x="949" y="443" width="1" height="57" fill="#000"/>
<rect x="944" y="451" width="11" height="40" fill="#000"/>
<rect x="945" y="452" width="9" height="38" fill="#ff0000"/>
<rect x="965" y="390" width="1" height="65" fill="#000"/>
<rect x="960" y="396" width="11" height="56" fill="#000"/>
<rect x="961" y="397" width="9" height="54" fill="#ff0000"/>
<rect x="981" y="377" width="1" height="59" fill="#000"/>
<rect x="976" y="400" width="11" height="26" fill="#000"/>
<rect x="977" y="401" width="9" height="24" fill="#ff0000"/>
<rect x="997" y="399" width="1" height="32" fill="#000"/>
<rect x="992" y="400" width="11" height="25" fill="#000"/>
<rect x="993" y="401" width="9" height="23" fill="#00ff00"/>
<rect x="1013" y="414" width="1" height="91" fill="#000"/>
<rect x="1008" y="418" width="11" height="20" fill="#000"/>
<rect x="1009" y="419" width="9" height="18" fill="#00ff00"/>
<rect x="1029" y="436" width="1" height="62" fill="#000"/>
<rect x="1024" y="439" width="11" height="45" fill="#000"/>
<rect x="1025" y="440" width="9" height="43" fill="#00ff00"/>
<rect x="1045" y="443" width="1" height="51" fill="#000"/>
<rect x="1040" y="463" width="11" height="18" fill="#000"/>
<rect x="1041" y="464" width="9" height="16" fill="#ff0000"/>
<rect x="1061" y="425" width="1" height="47" fill="#000"/>
<rect x="1056" y="448" width="11" height="17" fill="#000"/>
<rect x="1057" y="449" width="9" height="15" fill="#ff0000"/>
<rect x="1077" y="296" width="1" height="84" fill="#000"/>
<rect x="1072" y="362" width="11" height="11" fill="#000"/>
<rect x="1073" y="363" width="9" height="9" fill="#00ff00"/>
<rect x="1093" y="358" width="1" height="13" fill="#000"/>
<rect x="1088" y="358" width="11" height="13" fill="#000"/>
<rect x="1089" y="359" width="9" height="11" fill="#ff0000"/>
<rect x="1109" y="333" width="1" height="61" fill="#000"/>
<rect x="1104" y="337" width="11" height="46" fill="#000"/>
<rect x="1105" y="338" width="9" height="44" fill="#00ff00"/>
<rect x="1125" y="325" width="1" height="56" fill="#000"/>
<rect x="1120" y="334" width="11" height="48" fill="#000"/>
<rect x="1121" y="335" width="9" height="46" fill="#ff0000"/>
<rect x="1141" y="245" width="1" height="60" fill="#000"/>
<rect x="1136" y="287" width="11" height="9" fill="#000"/>
<rect x="1137" y="288" width="9" height="7" fill="#00ff00"/>
<rect x="1157" y="289" width="1" height="32" fill="#000"/>
<rect x="1152" y="296" width="11" height="11" fill="#000"/>
<rect x="1153" y="297" width="9" height="9" fill="#00ff00"/>
<rect x="1173" y="298" width="1" height="49" fill="#000"/>
<rect x="1168" y="329" width="11" height="11" fill="#000"/>
<rect x="1169" y="330" width="9" height="9" fill="#00ff00"/>
<rect x="1189" y="307" width="1" height="45" fill="#000"/>
<rect x="1184" y="311" width="11" height="28" fill="#000"/>
<rect x="1185" y="312" width="9" height="26" fill="#ff0000"/>
<rect x="1205" y="308" width="1" height="64" fill="#000"/>
<rect x="1200" y="312" width="11" height="27" fill="#000"/>
<rect x="1201" y="313" width="9" height="25" fill="#00ff00"/>
<rect x="1221" y="322" width="1" height="38" fill="#000"/>
<rect x="1216" y="338" width="11" height="6" fill="#000"/>
<rect x="1217" y="339" width="9" height="4" fill="#00ff00"/>
<rect x="1237" y="325" width="1" height="66" fill="#000"/>
<rect x="1232" y="345" width="11" height="16" fill="#000"/>
<rect x="1233" y="346" width="9" height="14" fill="#ff0000"/>
<rect x="1253" y="327" width="1" height="39" fill="#000"/>
<rect x="1248" y="342" width="11" height="4" fill="#000"/>
<rect x="1249" y="343" width="9" height="2" fill="#ff0000"/>
<rect x="1269" y="241" width="1" height="90" fill="#000"/>
<rect x="1264" y="292" width="11" height="35" fill="#000"/>
<rect x="1265" y="293" width="9" height="33" fill="#00ff00"/>
<rect x="1285" y="290" width="1" height="48" fill="#000"/>
<rect x="1280" y="293" width="11" height="36" fill="#000"/>
<rect x="1281" y="294" width="9" height="34" fill="#ff0000"/>
<rect x="1301" y="289" width="1" height="50" fill="#000"/>
<rect x="1296" y="292" width="11" height="33" fill="#000"/>
<rect x="1297" y="293" width="9" height="31" fill="#00ff00"/>
<rect x="1317" y="320" width="1" height="29" fill="#000"/>
<rect x="1312" y="325" width="11" height="6" fill="#000"/>
<rect x="1313" y="326" width="9" height="4" fill="#00ff00"/>
<rect x="1333" y="343" width="1" height="81" fill="#000"/>
<rect x="1328" y="356" width="11" height="49" fill="#000"/>
<rect x="1329" y="357" width="9" height="47" fill="#ff0000"/>
<rect x="1349" y="326" width="1" height="45" fill="#000"/>
<rect x="1344" y="328" width="11" height="28" fill="#000"/>
<rect x="1345" y="329" width="9" height="26" fill="#ff0000"/>
</g>
<g shape-rendering="crispEdges">
<rect x="5" y="254" width="1639" height="2" fill="#ff0000"/>
<rect x="5" y="285" width="1639" height="2" fill="#ff0000"/>
<rect x="5" y="314" width="1639" height="2" fill="#ff8c00"/>
<rect x="5" y="361" width="1639" height="2" fill="#0000ff"/>
<rect x="5" y="388" width="1639" height="2" fill="#0000ff"/>
</g>
<g shape-rendering="crispEdges" fill="#9fc83c">
<rect x="1091" y="268" width="260" height="3"/>
<rect x="1091" y="407" width="260" height="3"/>
<rect x="1091" y="268" width="3" height="142"/>
<rect x="1348" y="268" width="3" height="142"/>
</g>
<line x1="1293.5" y1="228.5" x2="1364" y2="260.5" stroke="#4c9a2a" stroke-width="3"/>
<polygon points="1365.8,251.5 1378.1,266.7 1358.8,267.4" fill="#4c9a2a"/>
<line x1="1326" y1="471" x2="1382" y2="392" stroke="#e8192c" stroke-width="3.2"/>
<polygon points="1390.5,379.7 1373.7,389.3 1387.9,399.4" fill="#e8192c"/>
<polygon points="1359.5,31.5 1369.5,31.5 1364.5,37" fill="#000"/>
<g clip-path="url(#cd)" shape-rendering="crispEdges" fill="#00ff00">
<rect x="4" y="683" width="3" height="11"/>
<rect x="20" y="683" width="3" height="14"/>
<rect x="36" y="683" width="3" height="16"/>
<rect x="52" y="683" width="3" height="19"/>
<rect x="68" y="683" width="3" height="20"/>
<rect x="84" y="683" width="3" height="20"/>
<rect x="100" y="683" width="3" height="21"/>
<rect x="116" y="683" width="3" height="25"/>
<rect x="132" y="683" width="3" height="27"/>
<rect x="148" y="683" width="3" height="24"/>
<rect x="164" y="683" width="3" height="25"/>
<rect x="180" y="683" width="3" height="26"/>
<rect x="196" y="683" width="3" height="29"/>
<rect x="212" y="683" width="3" height="29"/>
<rect x="228" y="683" width="3" height="29"/>
<rect x="244" y="683" width="3" height="30"/>
<rect x="260" y="683" width="3" height="32"/>
<rect x="276" y="683" width="3" height="34"/>
<rect x="292" y="683" width="3" height="37"/>
<rect x="308" y="683" width="3" height="37"/>
<rect x="324" y="683" width="3" height="38"/>
<rect x="340" y="683" width="3" height="42"/>
<rect x="356" y="683" width="3" height="46"/>
<rect x="372" y="683" width="3" height="49"/>
<rect x="388" y="683" width="3" height="51"/>
<rect x="404" y="683" width="3" height="50"/>
<rect x="420" y="683" width="3" height="53"/>
<rect x="436" y="683" width="3" height="44"/>
<rect x="452" y="683" width="3" height="39"/>
<rect x="468" y="683" width="3" height="33"/>
<rect x="484" y="683" width="3" height="29"/>
<rect x="500" y="683" width="3" height="24"/>
<rect x="516" y="683" width="3" height="20"/>
<rect x="532" y="683" width="3" height="17"/>
<rect x="548" y="683" width="3" height="14"/>
<rect x="564" y="683" width="3" height="8"/>
<rect x="580" y="683" width="3" height="7"/>
<rect x="596" y="683" width="3" height="12"/>
<rect x="612" y="683" width="3" height="15"/>
<rect x="628" y="683" width="3" height="18"/>
<rect x="644" y="683" width="3" height="21"/>
<rect x="660" y="683" width="3" height="29"/>
<rect x="676" y="683" width="3" height="36"/>
<rect x="692" y="683" width="3" height="37"/>
<rect x="708" y="683" width="3" height="38"/>
<rect x="724" y="683" width="3" height="42"/>
<rect x="740" y="683" width="3" height="45"/>
<rect x="756" y="683" width="3" height="44"/>
<rect x="772" y="683" width="3" height="43"/>
<rect x="788" y="683" width="3" height="44"/>
<rect x="804" y="683" width="3" height="46"/>
<rect x="820" y="683" width="3" height="42"/>
<rect x="836" y="683" width="3" height="40"/>
<rect x="852" y="683" width="3" height="42"/>
<rect x="868" y="683" width="3" height="46"/>
<rect x="884" y="683" width="3" height="46"/>
<rect x="900" y="683" width="3" height="42"/>
<rect x="916" y="683" width="3" height="37"/>
<rect x="932" y="683" width="3" height="32"/>
<rect x="948" y="683" width="3" height="25"/>
<rect x="964" y="683" width="3" height="17"/>
<rect x="980" y="683" width="3" height="11"/>
<rect x="996" y="683" width="3" height="7"/>
<rect x="1012" y="683" width="3" height="5"/>
<rect x="1028" y="683" width="3" height="6"/>
<rect x="1044" y="683" width="3" height="5"/>
<rect x="1060" y="683" width="3" height="4"/>
<rect x="1076" y="680" width="3" height="3"/>
<rect x="1092" y="675" width="3" height="8"/>
<rect x="1108" y="673" width="3" height="10"/>
<rect x="1124" y="669" width="3" height="14"/>
<rect x="1140" y="663" width="3" height="20"/>
<rect x="1156" y="660" width="3" height="23"/>
<rect x="1172" y="659" width="3" height="24"/>
<rect x="1188" y="657" width="3" height="26"/>
<rect x="1204" y="658" width="3" height="25"/>
<rect x="1220" y="659" width="3" height="24"/>
<rect x="1236" y="660" width="3" height="23"/>
<rect x="1252" y="660" width="3" height="23"/>
<rect x="1268" y="659" width="3" height="24"/>
<rect x="1284" y="658" width="3" height="25"/>
<rect x="1300" y="658" width="3" height="25"/>
<rect x="1316" y="660" width="3" height="23"/>
<rect x="1332" y="664" width="3" height="19"/>
<rect x="1348" y="665" width="3" height="18"/>
</g>
<polyline clip-path="url(#cd)" points="5,685.8 21,689.0 37,692.0 53,694.2 69,694.9 85,696.8 101,698.5 117,700.5 133,701.6 149,703.3 165,704.4 181,705.3 197,706.2 213,707.2 229,708.8 245,709.8 261,710.5 277,711.8 293,712.8 309,713.7 325,715.7 341,717.0 357,718.7 373,720.6 389,723.5 405,725.4 421,727.6 437,727.8 453,727.8 469,727.6 485,726.7 501,725.8 517,724.1 533,720.9 549,718.3 565,713.7 581,709.2 597,704.6 613,700.7 629,697.9 645,697.7 661,698.4 677,700.3 693,702.0 709,706.2 725,710.1 741,713.3 757,716.3 773,718.9 789,722.2 805,723.9 821,724.1 837,725.0 853,725.8 869,725.8 885,725.8 901,725.8 917,725.0 933,724.4 949,721.3 965,718.9 981,716.7 997,714.0 1013,710.5 1029,706.2 1045,701.4 1061,694.2 1077,691.6 1093,687.7 1109,684.1 1125,682.5 1141,679.6 1157,676.7 1173,672.8 1189,669.5 1205,666.3 1221,664.3 1237,662.4 1253,661.2 1269,660.5 1285,659.1 1301,658.9 1317,658.9 1333,660.0 1349,661.0" fill="none" stroke="#ff0000" stroke-width="2" shape-rendering="crispEdges"/>
<polyline clip-path="url(#cr)" points="5,785.7 21,791.5 37,791.9 53,793.5 69,791.9 85,791.5 101,792.9 117,797.5 133,797.5 149,787.3 165,792.5 181,794.6 197,797.1 213,791.9 229,791.9 245,795.6 261,797.1 277,797.5 293,798.1 309,796.0 325,798.7 341,801.8 357,802.6 373,802.6 389,802.6 405,800.2 421,802.9 437,789.2 453,786.7 469,787.1 485,787.8 501,786.1 517,785.9 533,785.9 549,785.9 565,782.0 581,786.7 597,795.0 613,795.0 629,794.0 645,796.4 661,801.8 677,802.9 693,795.0 709,795.4 725,798.5 741,798.5 757,795.4 773,794.0 789,797.5 805,797.5 821,791.3 837,791.1 853,797.5 869,797.5 885,796.0 901,792.9 917,787.1 933,786.7 949,784.7 965,782.0 981,782.0 997,784.7 1013,785.2 1029,787.8 1045,787.3 1061,785.6 1077,779.9 1093,779.9 1109,781.0 1125,778.2 1141,775.6 1157,775.6 1173,779.9 1189,778.8 1205,780.5 1221,781.0 1237,781.0 1253,781.0 1269,779.3 1285,776.7 1301,780.5 1317,781.0 1333,783.7 1349,781.6" fill="none" stroke="#1e90ff" stroke-width="2" shape-rendering="crispEdges"/>
<g shape-rendering="crispEdges" fill="#000">
<path d="M6 760.5 H1643" stroke="#000" stroke-width="1" stroke-dasharray="3 3"/>
<path d="M6 786.5 H1643" stroke="#000" stroke-width="1" stroke-dasharray="3 3"/>
<path d="M6 816.5 H1643" stroke="#000" stroke-width="1" stroke-dasharray="3 3"/>
</g>
<g shape-rendering="crispEdges" fill="#000">
<rect x="1645" y="53" width="2" height="1"/>
<rect x="1645" y="86" width="2" height="1"/>
<rect x="1645" y="119" width="2" height="1"/>
<rect x="1645" y="152" width="2" height="1"/>
<rect x="1645" y="185" width="2" height="1"/>
<rect x="1645" y="218" width="2" height="1"/>
<rect x="1645" y="251" width="2" height="1"/>
<rect x="1645" y="284" width="2" height="1"/>
<rect x="1645" y="317" width="2" height="1"/>
<rect x="1645" y="350" width="2" height="1"/>
<rect x="1645" y="383" width="2" height="1"/>
<rect x="1645" y="416" width="2" height="1"/>
<rect x="1645" y="449" width="2" height="1"/>
<rect x="1645" y="482" width="2" height="1"/>
<rect x="1645" y="515" width="2" height="1"/>
<rect x="1645" y="548" width="2" height="1"/>
<rect x="1645" y="581" width="2" height="1"/>
<rect x="1645" y="614" width="2" height="1"/>
<rect x="1645" y="647" width="2" height="1"/>
<rect x="1645" y="654" width="2" height="1"/>
<rect x="1645" y="683" width="2" height="1"/>
<rect x="1645" y="738" width="2" height="1"/>
<rect x="1645" y="742" width="2" height="1"/>
<rect x="1645" y="829" width="2" height="1"/>
<rect x="5" y="831" width="1" height="3"/>
<rect x="69" y="831" width="1" height="3"/>
<rect x="133" y="831" width="1" height="3"/>
<rect x="197" y="831" width="1" height="3"/>
<rect x="261" y="831" width="1" height="3"/>
<rect x="325" y="831" width="1" height="3"/>
<rect x="389" y="831" width="1" height="3"/>
<rect x="453" y="831" width="1" height="3"/>
<rect x="517" y="831" width="1" height="3"/>
<rect x="581" y="831" width="1" height="3"/>
<rect x="645" y="831" width="1" height="3"/>
<rect x="709" y="831" width="1" height="3"/>
<rect x="773" y="831" width="1" height="3"/>
<rect x="837" y="831" width="1" height="3"/>
<rect x="901" y="831" width="1" height="3"/>
<rect x="965" y="831" width="1" height="3"/>
<rect x="1029" y="831" width="1" height="3"/>
<rect x="1093" y="831" width="1" height="3"/>
<rect x="1157" y="831" width="1" height="3"/>
<rect x="1221" y="831" width="1" height="3"/>
<rect x="1285" y="831" width="1" height="3"/>
<rect x="1349" y="831" width="1" height="3"/>
</g>
<text x="1649.2" y="57" font-size="10" fill="#000" textLength="34" lengthAdjust="spacingAndGlyphs">21740.0</text>
<text x="1649.2" y="90" font-size="10" fill="#000" textLength="34" lengthAdjust="spacingAndGlyphs">21573.5</text>
<text x="1649.2" y="123" font-size="10" fill="#000" textLength="34" lengthAdjust="spacingAndGlyphs">21411.5</text>
<text x="1649.2" y="156" font-size="10" fill="#000" textLength="34" lengthAdjust="spacingAndGlyphs">21245.0</text>
<text x="1649.2" y="189" font-size="10" fill="#000" textLength="34" lengthAdjust="spacingAndGlyphs">21083.0</text>
<text x="1649.2" y="222" font-size="10" fill="#000" textLength="34" lengthAdjust="spacingAndGlyphs">20916.5</text>
<text x="1649.2" y="255" font-size="10" fill="#000" textLength="34" lengthAdjust="spacingAndGlyphs">20754.5</text>
<text x="1649.2" y="288" font-size="10" fill="#000" textLength="34" lengthAdjust="spacingAndGlyphs">20588.0</text>
<text x="1649.2" y="321" font-size="10" fill="#000" textLength="34" lengthAdjust="spacingAndGlyphs">20426.0</text>
<text x="1649.2" y="354" font-size="10" fill="#000" textLength="34" lengthAdjust="spacingAndGlyphs">20259.5</text>
<text x="1649.2" y="387" font-size="10" fill="#000" textLength="34" lengthAdjust="spacingAndGlyphs">20097.5</text>
<text x="1649.2" y="420" font-size="10" fill="#000" textLength="34" lengthAdjust="spacingAndGlyphs">19931.0</text>
<text x="1649.2" y="453" font-size="10" fill="#000" textLength="34" lengthAdjust="spacingAndGlyphs">19769.0</text>
<text x="1649.2" y="486" font-size="10" fill="#000" textLength="34" lengthAdjust="spacingAndGlyphs">19602.5</text>
<text x="1649.2" y="519" font-size="10" fill="#000" textLength="34" lengthAdjust="spacingAndGlyphs">19440.5</text>
<text x="1649.2" y="552" font-size="10" fill="#000" textLength="34" lengthAdjust="spacingAndGlyphs">19274.0</text>
<text x="1649.2" y="585" font-size="10" fill="#000" textLength="34" lengthAdjust="spacingAndGlyphs">19112.0</text>
<text x="1649.2" y="618" font-size="10" fill="#000" textLength="34" lengthAdjust="spacingAndGlyphs">18945.5</text>
<text x="1649.2" y="651" font-size="10" fill="#000" textLength="34" lengthAdjust="spacingAndGlyphs">18783.5</text>
<rect x="1646" y="249" width="41" height="11" fill="#ff0000" shape-rendering="crispEdges"/>
<text x="1649.6" y="258" font-size="10" fill="#fff" textLength="33.4" lengthAdjust="spacingAndGlyphs">20730.4</text>
<rect x="1646" y="280" width="41" height="11" fill="#ff0000" shape-rendering="crispEdges"/>
<text x="1649.6" y="289" font-size="10" fill="#fff" textLength="33.4" lengthAdjust="spacingAndGlyphs">20581.2</text>
<rect x="1646" y="309" width="41" height="11" fill="#ff8c00" shape-rendering="crispEdges"/>
<text x="1649.6" y="318" font-size="10" fill="#fff" textLength="33.4" lengthAdjust="spacingAndGlyphs">20431.9</text>
<rect x="1646" y="323" width="41" height="11" fill="#000" shape-rendering="crispEdges"/>
<text x="1649.6" y="332" font-size="10" fill="#fff" textLength="33.4" lengthAdjust="spacingAndGlyphs">20367.5</text>
<rect x="1646" y="356" width="41" height="11" fill="#0000ff" shape-rendering="crispEdges"/>
<text x="1649.6" y="365" font-size="10" fill="#fff" textLength="33.4" lengthAdjust="spacingAndGlyphs">20203.0</text>
<rect x="1646" y="383" width="41" height="11" fill="#0000ff" shape-rendering="crispEdges"/>
<text x="1649.6" y="392" font-size="10" fill="#fff" textLength="33.4" lengthAdjust="spacingAndGlyphs">20068.7</text>
<text x="1647.5" y="663" font-size="10" fill="#000">210.2</text>
<text x="1647.5" y="687" font-size="10" fill="#000">0.00</text>
<text x="1647.5" y="736" font-size="10" fill="#000">-401.53</text>
<text x="1647.5" y="752" font-size="10" fill="#000">100</text>
<text x="1646.5" y="764" font-size="10" fill="#000">80</text>
<text x="1646.5" y="790" font-size="10" fill="#000">50</text>
<text x="1647" y="820" font-size="10" fill="#000">15</text>
<text x="1647.5" y="827" font-size="10" fill="#000">0</text>
<text transform="translate(20,43) scale(0.931,1)" font-size="10" fill="#000">HK50-,H4&#160;&#160;20234.5 20382.5 20157.5 20367.5</text>
<polygon points="8,38 15,38 11.5,42" fill="#000"/>
<text transform="translate(9,665) scale(0.95,1)" font-size="10" fill="#000">MACD(12,26,9) 130.03 156.60</text>
<text transform="translate(8.6,754) scale(0.945,1)" font-size="10" fill="#000">RSI(15) 55.3542</text>
<text transform="translate(4.0,843) scale(0.93,1)" font-size="10" fill="#000">9 Feb 2023</text>
<text transform="translate(68.0,843) scale(0.93,1)" font-size="10" fill="#000">13 Feb 05:00</text>
<text transform="translate(132.0,843) scale(0.93,1)" font-size="10" fill="#000">15 Feb 05:00</text>
<text transform="translate(196.0,843) scale(0.93,1)" font-size="10" fill="#000">17 Feb 05:00</text>
<text transform="translate(260.0,843) scale(0.93,1)" font-size="10" fill="#000">21 Feb 05:00</text>
<text transform="translate(324.0,843) scale(0.93,1)" font-size="10" fill="#000">23 Feb 05:00</text>
<text transform="translate(388.0,843) scale(0.93,1)" font-size="10" fill="#000">27 Feb 05:00</text>
<text transform="translate(452.0,843) scale(0.93,1)" font-size="10" fill="#000">1 Mar 05:00</text>
<text transform="translate(516.0,843) scale(0.93,1)" font-size="10" fill="#000">3 Mar 05:00</text>
<text transform="translate(580.0,843) scale(0.93,1)" font-size="10" fill="#000">7 Mar 05:00</text>
<text transform="translate(644.0,843) scale(0.93,1)" font-size="10" fill="#000">9 Mar 05:00</text>
<text transform="translate(708.0,843) scale(0.93,1)" font-size="10" fill="#000">13 Mar 05:00</text>
<text transform="translate(772.0,843) scale(0.93,1)" font-size="10" fill="#000">15 Mar 05:00</text>
<text transform="translate(836.0,843) scale(0.93,1)" font-size="10" fill="#000">17 Mar 05:00</text>
<text transform="translate(900.0,843) scale(0.93,1)" font-size="10" fill="#000">21 Mar 05:00</text>
<text transform="translate(964.0,843) scale(0.93,1)" font-size="10" fill="#000">23 Mar 05:00</text>
<text transform="translate(1028.0,843) scale(0.93,1)" font-size="10" fill="#000">27 Mar 05:00</text>
<text transform="translate(1092.0,843) scale(0.93,1)" font-size="10" fill="#000">29 Mar 05:00</text>
<text transform="translate(1156.0,843) scale(0.93,1)" font-size="10" fill="#000">31 Mar 05:00</text>
<text transform="translate(1220.0,843) scale(0.93,1)" font-size="10" fill="#000">4 Apr 05:00</text>
<text transform="translate(1284.0,843) scale(0.93,1)" font-size="10" fill="#000">11 Apr 05:00</text>
<text transform="translate(1348.0,843) scale(0.93,1)" font-size="10" fill="#000">13 Apr 05:00</text>
</svg>
</body></html>
